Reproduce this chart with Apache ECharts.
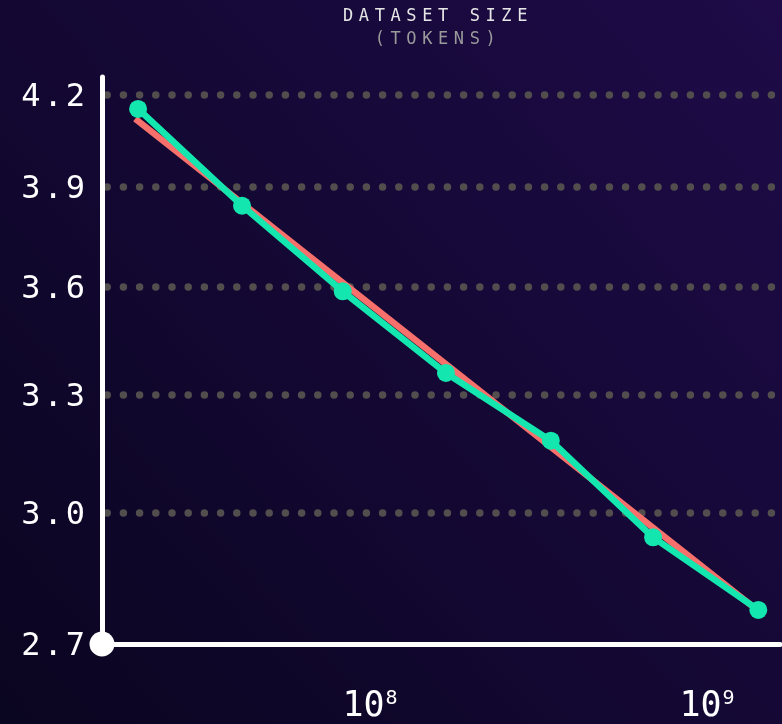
<!DOCTYPE html>
<html><head><meta charset="utf-8">
<script src="https://cdn.jsdelivr.net/npm/echarts@6/dist/echarts.min.js"></script>
<style>
html,body{margin:0;padding:0;width:782px;height:724px;overflow:hidden;background:#0e0727;}
#wrap{position:relative;width:782px;height:724px;}
#chart{position:absolute;left:0;top:0;width:782px;height:724px;}
#ttl{position:absolute;left:3px;top:4px;width:870px;text-align:center;font-family:'DejaVu Sans Mono',monospace;font-size:17px;line-height:23px;letter-spacing:5.6px;pointer-events:none;}
#ttl .l1{color:#e6e6e6;}
#ttl .l2{color:#9a9a9a;}
</style>
</head><body>
<div id="wrap"><div id="chart"></div>
<div id="ttl"><div class="l1">DATASET SIZE</div><div class="l2">(TOKENS)</div></div></div>
<script>
// Observed data (dataset size in tokens vs loss)
const tokens = [2.05e7, 4.17e7, 8.3e7, 1.68e8, 3.44e8, 6.92e8, 1.42e9];
const loss = [4.153, 3.842, 3.586, 3.358, 3.180, 2.942, 2.775];
// Power-law fit line (endpoints)
const fitTokens = [2.01e7, 1.41e9];
const fitLoss = [4.120, 2.775];
// Axes
const xTicks = [1e8, 1e9];
const yLabels = [2.7, 3.0, 3.3, 3.6, 3.9, 4.2];
const yGrid = [3.0, 3.3, 3.6, 3.9, 4.2];
const xRange = [1.602e7, 1.647e9];
const yRange = [2.7, 4.261];

const lx = Math.log10, ly = Math.log;
const chart = echarts.init(document.getElementById('chart'));
const mono = "'DejaVu Sans Mono', monospace";
chart.setOption({
  animation: false,
  backgroundColor: new echarts.graphic.LinearGradient(0, 1, 1, 0, [
    {offset: 0, color: '#0a0520'}, {offset: 1, color: '#1e0b48'}
  ]),
  grid: {left: 102, right: 2, top: 77, bottom: 76, containLabel: false},
  xAxis: {
    type: 'value', min: lx(xRange[0]), max: lx(xRange[1]),
    axisLine: {show: true, lineStyle: {color: '#ffffff', width: 5}, symbol: ['circle', 'none'], symbolSize: [25, 25]},
    axisTick: {show: false},
    splitLine: {show: false},
    axisLabel: {
      customValues: xTicks.map(lx), margin: 45,
      formatter: v => '{a|10}{b|' + Math.round(v) + '}',
      rich: {
        a: {fontFamily: mono, fontSize: 35, color: '#ffffff'},
        b: {fontFamily: mono, fontSize: 20, color: '#ffffff', verticalAlign: 'top', padding: [0, 0, 0, 1]}
      }
    }
  },
  yAxis: {
    type: 'value', min: ly(yRange[0]), max: ly(yRange[1]),
    axisLine: {show: true, lineStyle: {color: '#ffffff', width: 5}},
    axisTick: {show: false, customValues: yGrid.map(ly)},
    axisLabel: {
      customValues: yLabels.map(ly), margin: 17,
      formatter: v => {
        const s = Math.exp(v).toFixed(1).split('.');
        return '{n|' + s[0] + '}{p|.}{n|' + s[1] + '}';
      },
      rich: {
        n: {fontFamily: mono, fontSize: 32, color: '#ffffff', padding: [6, 0, 0, 0]},
        p: {fontFamily: mono, fontSize: 32, color: '#ffffff', padding: [6, 3, 0, 3]}
      }
    },
    splitLine: {show: true, customValues: yGrid.map(ly),
      lineStyle: {color: '#524e4e', width: 7.5, type: [0, 16.2], cap: 'round', dashOffset: 11}}
  },
  series: [
    {
      type: 'line', name: 'fit', z: 2, symbol: 'none', silent: true,
      data: fitTokens.map((t, i) => [lx(t), ly(fitLoss[i])]),
      lineStyle: {color: '#f7706b', width: 6.5}
    },
    {
      type: 'line', name: 'loss', z: 3, symbol: 'circle', symbolSize: 18,
      data: tokens.map((t, i) => [lx(t), ly(loss[i])]),
      lineStyle: {color: '#13e6ae', width: 6.5},
      itemStyle: {color: '#13e6ae'}
    }
  ]
});
</script>
</body></html>
